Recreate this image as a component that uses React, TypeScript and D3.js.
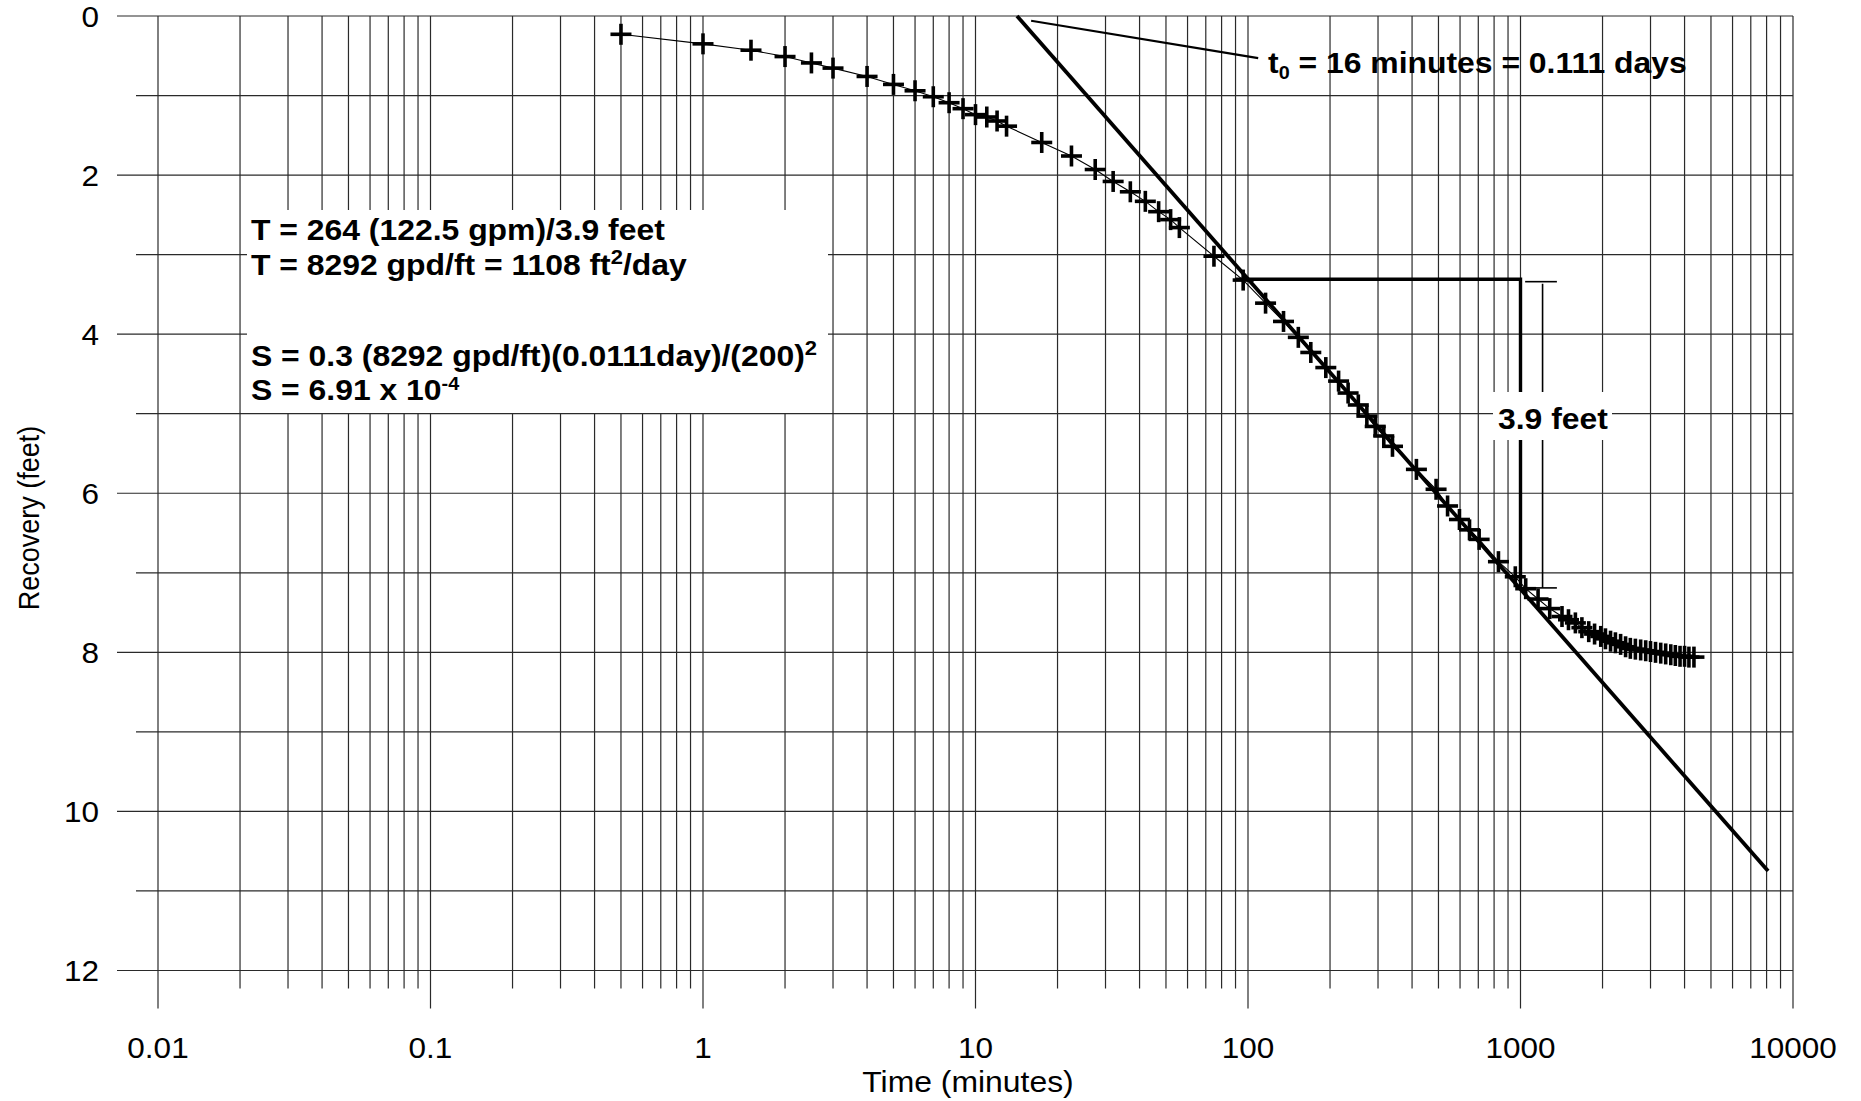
import React from "react";
import * as d3 from "d3";

// ---- Data ----
const timeMinutes = [
  0.5, 1, 1.5, 2, 2.5, 3, 4, 5, 6, 7, 8, 9, 10, 11, 12, 13,
  17.5, 22.5, 27.5, 32, 37, 42, 47, 52, 56, 75, 96, 116, 135,
  153, 170, 193, 215, 233, 254, 273, 293, 315, 339, 415, 490, 540, 597, 650, 705,
  830, 957, 1045, 1160, 1280, 1420, 1500, 1590, 1680, 1780, 1870, 1970, 2050,
  2140, 2230, 2330, 2430, 2530, 2640, 2760, 2880, 3000, 3130, 3270, 3410, 3560,
  3700, 3850, 4000, 4150, 4330,
];
const recoveryFeet = [
  0.23, 0.35, 0.43, 0.51, 0.59, 0.655, 0.76, 0.86, 0.94, 1.015, 1.09, 1.165, 1.24, 1.27, 1.32, 1.385,
  1.59, 1.76, 1.93, 2.08, 2.21, 2.33, 2.46, 2.56, 2.66, 3.02, 3.32, 3.61, 3.84,
  4.04, 4.23, 4.42, 4.59, 4.74, 4.89, 5.03, 5.16, 5.28, 5.41, 5.70, 5.95, 6.16, 6.33, 6.46, 6.58,
  6.86, 7.05, 7.20, 7.33, 7.45, 7.55, 7.59, 7.63, 7.69, 7.74, 7.77, 7.80, 7.83,
  7.86, 7.88, 7.90, 7.93, 7.95, 7.96, 7.97, 7.98, 7.99, 8.00, 8.01, 8.02, 8.03,
  8.04, 8.05, 8.05, 8.06, 8.06,
];

const xTickValues = [0.01, 0.1, 1, 10, 100, 1000, 10000];
const xTickLabels = ["0.01", "0.1", "1", "10", "100", "1000", "10000"];
const yTickValues = [0, 2, 4, 6, 8, 10, 12];
const yTickLabels = ["0", "2", "4", "6", "8", "10", "12"];

// Straight-line fit (3.9 ft per log cycle)
const fitTime = [14.2, 8100];
const fitRecovery = [0, 10.75];
// Construction lines (one log cycle, 100 -> 1000 min)
const constructTime = [90, 1000, 1000];
const constructRecovery = [3.31, 3.31, 7.21];
// Dimension bracket for 3.9 feet
const dimTickTime = [1040, 1360];
const dimLineTime = 1205;
const dimRecovery = [3.34, 7.19];
// Leader to t0
const leaderTime = [16, 109];
const leaderRecovery = [0.06, 0.53];

export default function App() {
  const W = 1861;
  const H = 1101;
  const x = d3.scaleLog().domain([0.01, 10000]).range([158, 1793]);
  const y = d3.scaleLinear().domain([0, 12]).range([16, 970.5]);

  const gridX: { v: number; major: boolean }[] = [];
  for (let e = -2; e <= 3; e++) {
    for (let k = 1; k <= 9; k++) gridX.push({ v: k * Math.pow(10, e), major: k === 1 });
  }
  gridX.push({ v: 10000, major: true });
  const gridY = d3.range(0, 13);

  const pts = timeMinutes.map((t, i) => ({ t, s: recoveryFeet[i] }));
  const dataLine = d3
    .line<{ t: number; s: number }>()
    .x((d) => x(d.t))
    .y((d) => y(d.s))(pts) as string;

  const fitPath = d3
    .line<number>()
    .x((d, i) => x(fitTime[i]))
    .y((d) => y(d))(fitRecovery) as string;
  const constructPath = d3
    .line<number>()
    .x((d, i) => x(constructTime[i]))
    .y((d) => y(d))(constructRecovery) as string;

  const gridColor = "#2a2a2a";
  const font = "'Liberation Sans', Arial, Helvetica, sans-serif";
  const tickStretch = 1.05;
  const boldStretch = 1.1;
  const boldSize = 29;

  return (
    <svg
      width={W}
      height={H}
      viewBox={`0 0 ${W} ${H}`}
      style={{ position: "absolute", left: 0, top: 0, background: "#fff" }}
    >
      <rect x={0} y={0} width={W} height={H} fill="#fff" />
      {/* grid */}
      <g stroke={gridColor} strokeWidth={1.2} fill="none">
        {gridY.map((v) => (
          <line
            key={"h" + v}
            x1={v % 2 === 0 ? 117 : 136}
            x2={x(10000)}
            y1={y(v)}
            y2={y(v)}
          />
        ))}
        {gridX.map((g, i) => (
          <line
            key={"v" + i}
            x1={x(g.v)}
            x2={x(g.v)}
            y1={y(0)}
            y2={g.major ? y(12) + 38 : y(12) + 18}
          />
        ))}
      </g>

      {/* white box behind equations */}
      <rect x={247} y={210} width={581} height={203} fill="#fff" />

      {/* fit line */}
      <path d={fitPath} stroke="#000" strokeWidth={3.8} fill="none" />
      {/* construction lines */}
      <path d={constructPath} stroke="#000" strokeWidth={3.4} fill="none" />
      {/* dimension bracket */}
      <g stroke="#000" strokeWidth={1.6}>
        <line x1={x(dimTickTime[0])} x2={x(dimTickTime[1])} y1={y(dimRecovery[0])} y2={y(dimRecovery[0])} />
        <line x1={x(dimTickTime[0])} x2={x(dimTickTime[1])} y1={y(dimRecovery[1])} y2={y(dimRecovery[1])} />
        <line x1={x(dimLineTime)} x2={x(dimLineTime)} y1={y(dimRecovery[0]) + 2} y2={y(dimRecovery[1])} />
      </g>
      {/* leader */}
      <line
        x1={x(leaderTime[0])}
        x2={x(leaderTime[1])}
        y1={y(leaderRecovery[0])}
        y2={y(leaderRecovery[1])}
        stroke="#000"
        strokeWidth={2.2}
      />

      {/* data line */}
      <path d={dataLine} stroke="#000" strokeWidth={1.1} fill="none" />
      {/* markers */}
      <g stroke="#000" strokeWidth={3.6}>
        {pts.map((d, i) => {
          const cx = x(d.t);
          const cy = y(d.s);
          return (
            <g key={"p" + i}>
              <line x1={cx - 10.5} x2={cx + 10.5} y1={cy} y2={cy} />
              <line x1={cx} x2={cx} y1={cy - 10.5} y2={cy + 10.5} />
            </g>
          );
        })}
      </g>

      {/* 3.9 feet label with white backing */}
      <rect x={1493} y={392} width={119} height={48} fill="#fff" />
      <text
        transform={`translate(1498,429) scale(${boldStretch},1)`}
        fontFamily={font}
        fontWeight="bold"
        fontSize={boldSize}
        fill="#000"
      >
        3.9 feet
      </text>

      {/* t0 annotation */}
      <text
        transform={`translate(1268,73) scale(${boldStretch},1)`}
        fontFamily={font}
        fontWeight="bold"
        fontSize={boldSize}
        fill="#000"
      >
        t
        <tspan fontSize={18} dy={6}>0</tspan>
        <tspan dy={-6}> = 16 minutes = 0.111 days</tspan>
      </text>

      {/* equations */}
      <g fontFamily={font} fontWeight="bold" fontSize={boldSize} fill="#000">
        <text transform={`translate(251,240) scale(${boldStretch},1)`}>T = 264 (122.5 gpm)/3.9 feet</text>
        <text transform={`translate(251,275) scale(${boldStretch},1)`}>
          T = 8292 gpd/ft = 1108 ft
          <tspan fontSize={20} dy={-11}>2</tspan>
          <tspan dy={11}>/day</tspan>
        </text>
        <text transform={`translate(251,366) scale(${boldStretch},1)`}>
          S = 0.3 (8292 gpd/ft)(0.0111day)/(200)
          <tspan fontSize={20} dy={-11}>2</tspan>
        </text>
        <text transform={`translate(251,400) scale(${boldStretch},1)`}>
          S = 6.91 x 10
          <tspan fontSize={18} dy={-10}>-4</tspan>
        </text>
      </g>

      {/* tick labels */}
      <g fontFamily={font} fontSize={30} fill="#000">
        {yTickValues.map((v, i) => (
          <text
            key={"yl" + v}
            transform={`translate(99,${y(v)}) scale(${tickStretch},1)`}
            textAnchor="end"
            dy="0.36em"
          >
            {yTickLabels[i]}
          </text>
        ))}
        {xTickValues.map((v, i) => (
          <text
            key={"xl" + v}
            transform={`translate(${x(v)},1058) scale(${tickStretch},1)`}
            textAnchor="middle"
          >
            {xTickLabels[i]}
          </text>
        ))}
      </g>

      {/* axis titles */}
      <text
        transform={`translate(968,1092) scale(1.1,1)`}
        textAnchor="middle"
        fontFamily={font}
        fontSize={29}
        fill="#000"
      >
        Time (minutes)
      </text>
      <text
        transform={`translate(39,518) rotate(-90) scale(1,1.12)`}
        textAnchor="middle"
        fontFamily={font}
        fontSize={27}
        fill="#000"
      >
        Recovery (feet)
      </text>
    </svg>
  );
}
